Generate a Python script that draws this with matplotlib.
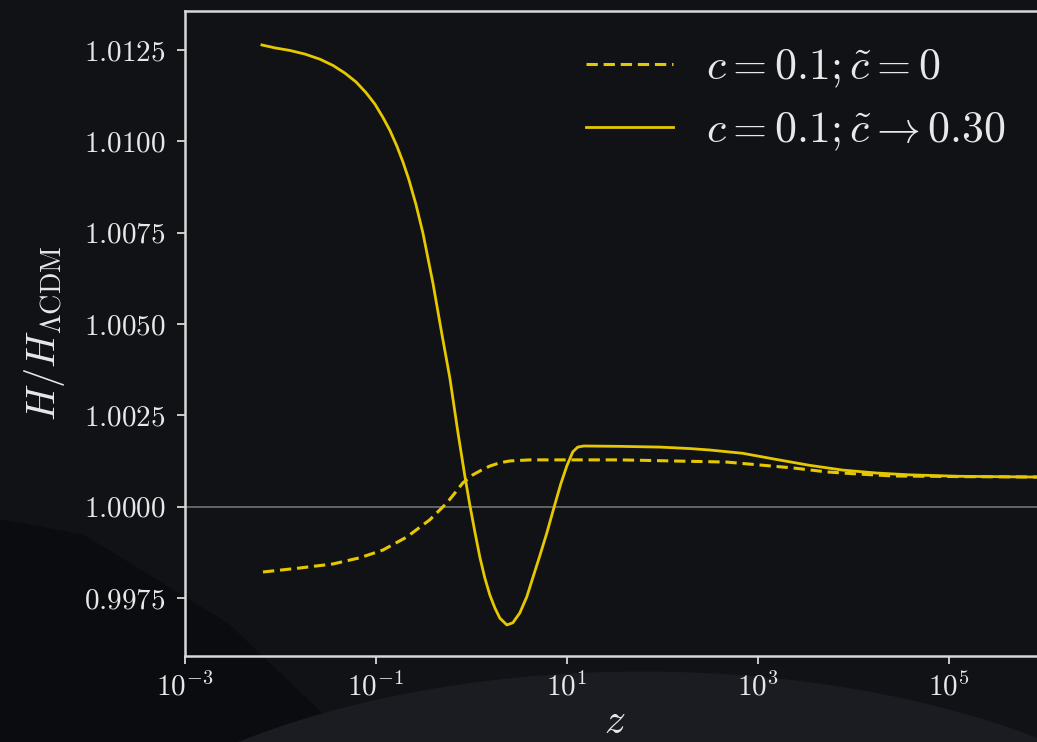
import numpy as np
import matplotlib
matplotlib.use("Agg")
import matplotlib.pyplot as plt
from matplotlib.ticker import FuncFormatter, NullLocator, FixedLocator
from matplotlib.patches import Ellipse, Polygon

plt.rcParams['mathtext.fontset'] = 'cm'
plt.rcParams['font.family'] = 'serif'
plt.rcParams['font.serif'] = ['cmr10', 'DejaVu Serif']
plt.rcParams['axes.unicode_minus'] = False
plt.rcParams['axes.formatter.use_mathtext'] = True

# ---- data (log10 z, H/H_LCDM) ----
solid_log10z = [-2.194, -2.058, -1.901, -1.743, -1.586, -1.450, -1.325, -1.209,
                -1.105, -1.010, -0.927, -0.853, -0.780, -0.717, -0.654, -0.581,
                -0.508, -0.403, -0.309, -0.225, -0.141, -0.068, -0.016, 0.037,
                0.089, 0.141, 0.194, 0.246, 0.298, 0.372, 0.435, 0.508, 0.581,
                0.644, 0.717, 0.791, 0.874, 0.937, 1.000, 1.063, 1.115, 1.178,
                1.555, 1.974, 2.288, 2.497, 2.843, 3.199, 3.545, 3.890, 4.246,
                4.592, 5.115, 5.921, 6.0]
solid_ratio = [1.01264, 1.01256, 1.01249, 1.01239, 1.01225, 1.01208, 1.01187, 1.01163,
               1.01134, 1.01102, 1.01066, 1.01030, 1.00987, 1.00944, 1.00895, 1.00828,
               1.00750, 1.00613, 1.00473, 1.00352, 1.00204, 1.00084, 1.00005, 0.99931,
               0.99862, 0.99805, 0.99758, 0.99723, 0.99695, 0.99676, 0.99682, 0.99709, 0.99753,
               0.99805, 0.99865, 0.99928, 1.00005, 1.00062, 1.00111, 1.00150, 1.00163, 1.00166,
               1.00165, 1.00163, 1.00159, 1.00155, 1.00146, 1.00129, 1.00113, 1.00100, 1.00092,
               1.00087, 1.00083, 1.00081, 1.00081]

dashed_log10z = [-2.183, -1.796, -1.450, -1.168, -0.927, -0.675, -0.435, -0.257,
                 -0.173, -0.089, 0.016, 0.120, 0.194, 0.298, 0.403, 0.613, 0.927,
                 1.555, 2.675, 3.021, 3.366, 3.723, 4.068, 4.414, 5.200, 5.921, 6.0]
dashed_ratio = [0.99821, 0.99832, 0.99843, 0.99860, 0.99881, 0.99917, 0.99964, 1.00010,
                1.00037, 1.00065, 1.00087, 1.00102, 1.00111, 1.00120, 1.00125, 1.00128,
                1.00128, 1.00128, 1.00122, 1.00114, 1.00106, 1.00095, 1.00089, 1.00084,
                1.00082, 1.00081, 1.00081]

label_dashed = r"$c = 0.1; \tilde{c} = 0$"
label_solid = r"$c = 0.1; \tilde{c} \to 0.30$"
xlabel = r"$z$"
ylabel = r"$H/H_{\Lambda\mathrm{CDM}}$"
yticks = [0.9975, 1.0000, 1.0025, 1.0050, 1.0075, 1.0100, 1.0125]
xticks = [1e-3, 1e-1, 1e1, 1e3, 1e5]

# ---- styling ----
BG = '#111216'
YEL = '#e6c800'
SPINE = '#d8d8d8'
TXT = '#e8e8e8'

W, H = 1037, 742
fig = plt.figure(figsize=(W / 100, H / 100), dpi=100)
fig.patch.set_facecolor(BG)

# subtle background shapes (slide backdrop)
fig.patches.append(Polygon([[0, 0], [0, 0.30], [0.08, 0.28], [0.22, 0.16], [0.34, 0.0]],
                           closed=True, transform=fig.transFigure,
                           facecolor='#0b0c0f', edgecolor='none', zorder=-2))
fig.patches.append(Ellipse((0.62, -0.30), 1.2, 0.79, transform=fig.transFigure,
                           facecolor='#1a1c22', edgecolor='none', zorder=-1))

ax = fig.add_axes([185 / W, 1 - 656 / H, (1044 - 185) / W, (656 - 11) / H])
ax.set_facecolor('none')

z_solid = np.power(10.0, solid_log10z)
z_dashed = np.power(10.0, dashed_log10z)

ax.axhline(1.0, color='#8a8a8a', lw=1.2, alpha=0.8, zorder=1)
ax.plot(z_dashed, dashed_ratio, color=YEL, lw=2.2, ls=(0, (3.7, 1.9)), label=label_dashed,
        zorder=3, solid_joinstyle='round')
ax.plot(z_solid, solid_ratio, color=YEL, lw=2.0, ls='-', label=label_solid, zorder=3,
        solid_joinstyle='round')

ax.set_xscale('log')
ax.set_xlim(1e-3, 1e6)
ax.set_ylim(0.99591, 1.01357)

ax.xaxis.set_major_locator(FixedLocator(xticks))
ax.xaxis.set_minor_locator(NullLocator())
ax.xaxis.set_major_formatter(FuncFormatter(lambda v, p: r"$10^{%d}$" % int(round(np.log10(v)))))
ax.yaxis.set_major_locator(FixedLocator(yticks))
ax.yaxis.set_major_formatter(FuncFormatter(lambda v, p: r"$%.4f$" % v))

for s in ['left', 'bottom', 'top']:
    ax.spines[s].set_color(SPINE)
    ax.spines[s].set_linewidth(1.8)
ax.spines['right'].set_visible(False)

ax.tick_params(axis='both', colors=SPINE, labelcolor=TXT, length=6, width=1.3,
               direction='out', labelsize=21)
ax.tick_params(axis='y', pad=8)
ax.tick_params(axis='x', pad=6)

ax.set_xlabel(xlabel, color=TXT, fontsize=30, labelpad=1)
ax.set_ylabel(ylabel, color=TXT, fontsize=29, labelpad=12)

leg = ax.legend(loc='upper right', frameon=False, fontsize=31.5, handlelength=2.0,
                handletextpad=0.75, labelspacing=0.45, borderpad=0.4, borderaxespad=0.0,
                bbox_to_anchor=(0.976, 0.972))
for t in leg.get_texts():
    t.set_color(TXT)

fig.savefig('out.png', dpi=100, facecolor=fig.get_facecolor())
